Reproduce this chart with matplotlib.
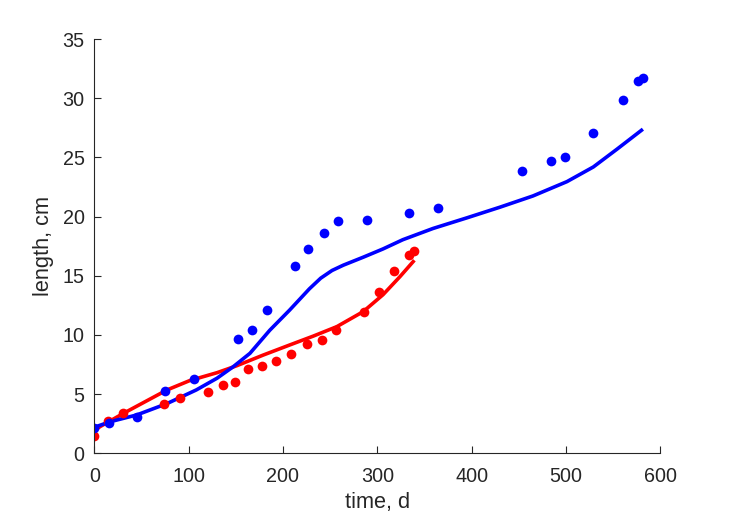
#!/usr/bin/env python3
"""Length vs time: two measured series (dots) with their fitted curves."""

import matplotlib

matplotlib.use("Agg")
import matplotlib.pyplot as plt

# ---- measured points (blue series) ----------------------------------------
blue_t = [0, 16, 45, 75, 106, 152, 167, 183, 213, 227, 243, 258, 289, 334,
          364, 453, 484, 499, 529, 560, 576, 582]
blue_len = [2.15, 2.6, 3.1, 5.25, 6.3, 9.65, 10.4, 12.1, 15.8, 17.3, 18.6,
            19.65, 19.7, 20.3, 20.7, 23.86, 24.74, 25.0, 27.05, 29.9, 31.45, 31.7]

# ---- measured points (red series) -----------------------------------------
red_t = [0, 15, 30, 74, 91, 121, 136, 149, 163, 178, 193, 209, 225, 241,
         256, 286, 302, 318, 334, 339]
red_len = [1.45, 2.7, 3.4, 4.2, 4.7, 5.2, 5.75, 6.0, 7.1, 7.35, 7.8, 8.4,
           9.2, 9.6, 10.4, 11.95, 13.6, 15.4, 16.8, 17.1]

# ---- fitted curves --------------------------------------------------------
blue_fit_t = [0, 17, 45, 77, 108, 130, 147, 165, 186, 207, 228, 240, 252,
              264, 285, 306, 327, 359, 395, 430, 465, 501, 529, 554, 580]
blue_fit_len = [2.2, 2.67, 3.24, 4.2, 5.35, 6.34, 7.3, 8.45, 10.4, 12.1,
                13.9, 14.8, 15.45, 15.9, 16.57, 17.27, 18.05, 19.0, 19.9,
                20.8, 21.75, 22.96, 24.2, 25.7, 27.3]

red_fit_t = [0, 6, 31, 52, 77, 101, 130, 151, 179, 207, 232, 257, 285, 306,
             324, 338]
red_fit_len = [1.9, 2.25, 3.38, 4.28, 5.35, 6.14, 6.81, 7.4, 8.3, 9.15, 9.9,
               10.7, 11.97, 13.4, 14.93, 16.2]

BLUE = "#0000ff"
RED = "#ff0000"
INK = "#262626"


def main():
    plt.rcParams["font.family"] = ["Liberation Sans", "DejaVu Sans"]
    fig = plt.figure(figsize=(7.29, 5.21), dpi=100)
    ax = fig.add_axes([0.1294, 0.1300, 0.7764, 0.7948])

    ax.plot(red_fit_t, red_fit_len, color=RED, lw=2.6, solid_joinstyle="round")
    ax.plot(blue_fit_t, blue_fit_len, color=BLUE, lw=2.6, solid_joinstyle="round")
    ax.plot(red_t, red_len, "o", color=RED, ms=7.0, mew=0)
    ax.plot(blue_t, blue_len, "o", color=BLUE, ms=7.0, mew=0)

    ax.set_xlim(0, 600)
    ax.set_ylim(0, 35)
    ax.set_xticks(range(0, 601, 100))
    ax.set_yticks(range(0, 36, 5))

    for side in ("top", "right"):
        ax.spines[side].set_visible(False)
    for side in ("left", "bottom"):
        ax.spines[side].set_color(INK)
        ax.spines[side].set_linewidth(0.8)
    ax.tick_params(direction="in", length=5, width=0.8, colors=INK,
                   labelsize=14.2)
    ax.tick_params(axis="x", pad=10)
    ax.tick_params(axis="y", pad=7)

    ax.set_xlabel("time, d", fontsize=15.7, color=INK, labelpad=4)
    ax.set_ylabel("length, cm", fontsize=15.7, color=INK, labelpad=6)

    fig.savefig("out.png", dpi=100)


if __name__ == "__main__":
    main()
